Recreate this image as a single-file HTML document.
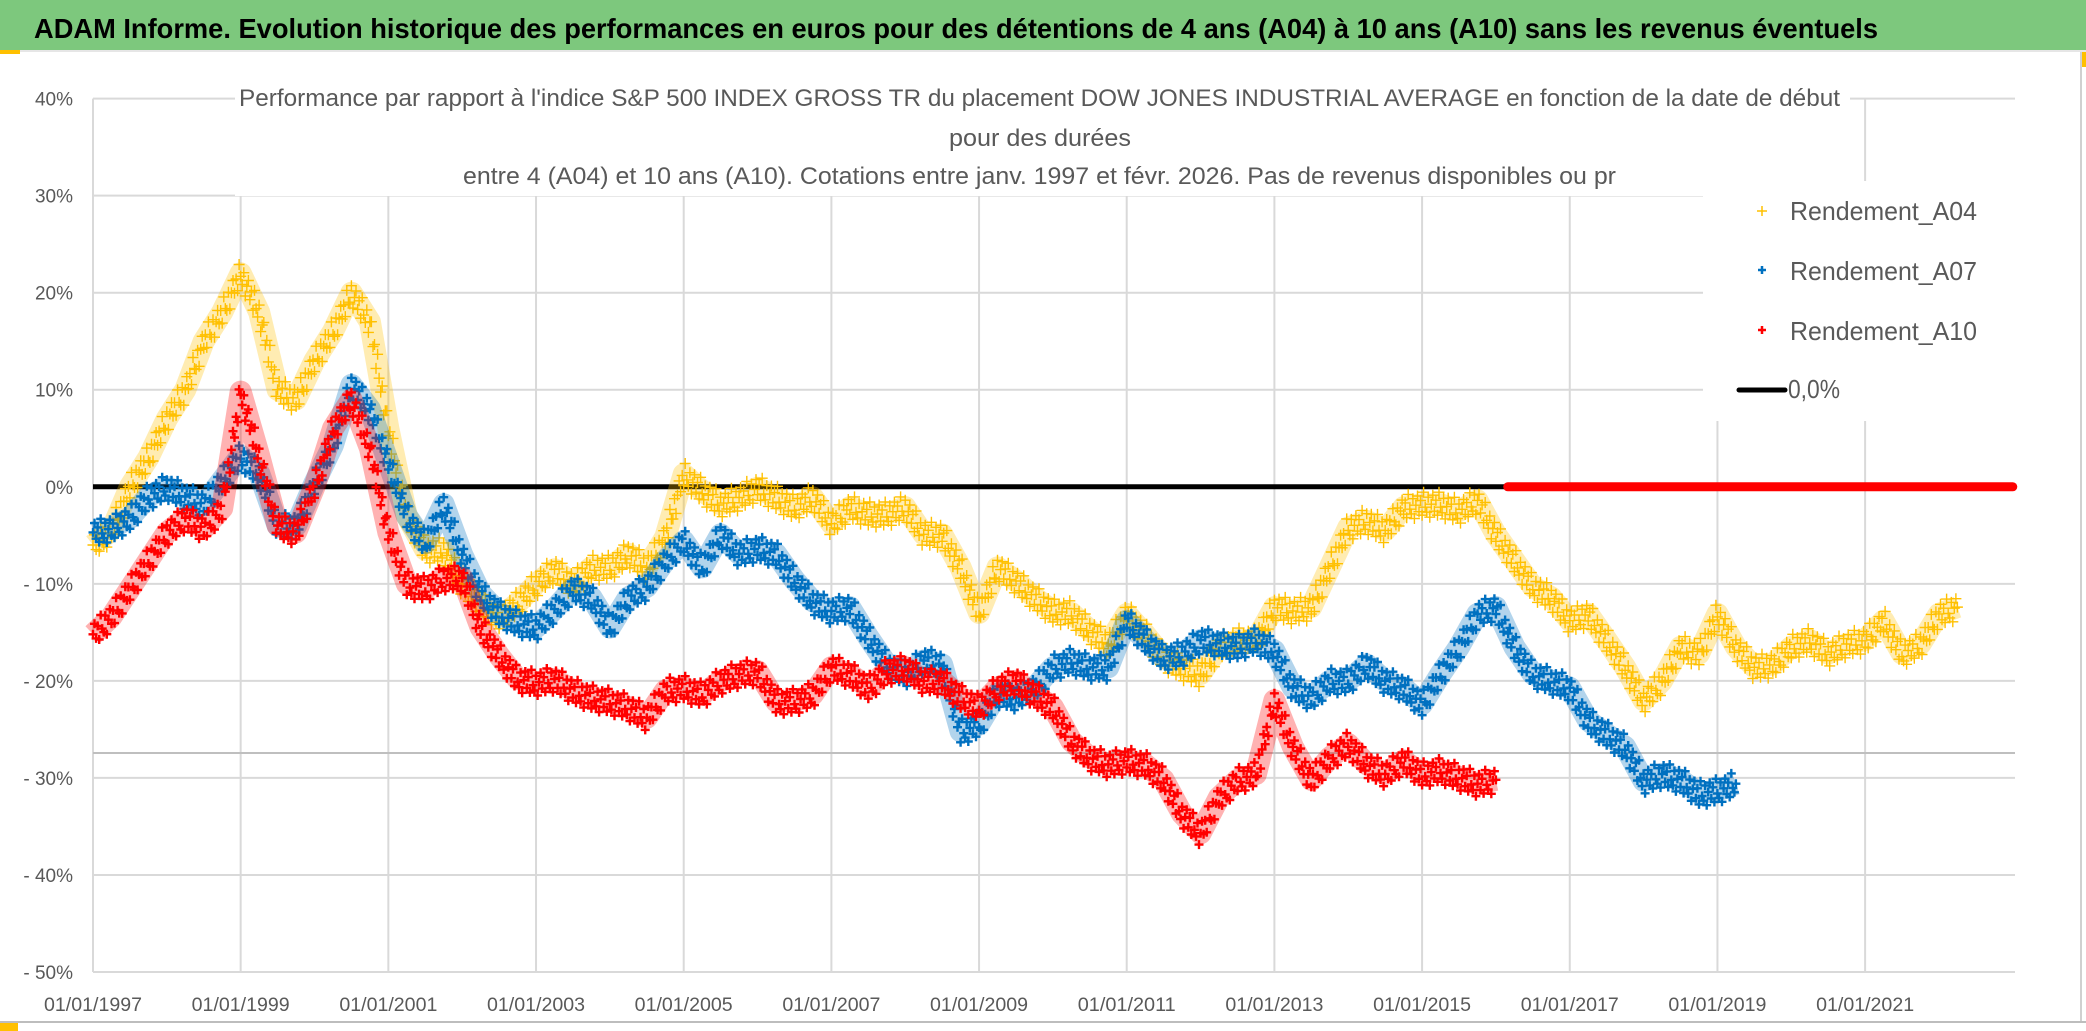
<!DOCTYPE html>
<html><head><meta charset="utf-8"><style>
html,body{margin:0;padding:0;background:#fff;width:2086px;height:1031px;overflow:hidden}
svg{display:block}
text{font-family:"Liberation Sans",sans-serif}
</style></head><body>
<svg id="chart" width="2086" height="1031" viewBox="0 0 2086 1031">
  <rect x="0" y="0" width="2086" height="1031" fill="#fff"/>
  <rect x="0" y="0" width="2086" height="50" fill="#7DC87D"/>
  <rect x="0" y="50" width="2086" height="2" fill="#e6e6e6"/>
  <rect x="0" y="50" width="20" height="4" fill="#FFC000"/>
  <rect x="2080" y="52" width="2" height="970" fill="#d0d0d0"/>
  <rect x="2082" y="52" width="4" height="15" fill="#FFC000"/>
  <rect x="0" y="1021" width="2086" height="2" fill="#bdbdbd"/>
  <rect x="0" y="1023" width="18" height="8" fill="#FFC000"/>
  <text x="34" y="38" font-size="28" font-weight="bold" fill="#000" textLength="1844" lengthAdjust="spacingAndGlyphs">ADAM Informe. Evolution historique des performances en euros pour des détentions de 4 ans (A04) à 10 ans (A10) sans les revenus éventuels</text>
  <g id="grid"></g>
  <g id="yaxis"></g>
  <g id="xaxis"></g>
  <g id="series"></g>
  <rect x="235" y="60" width="1615" height="136" fill="#fff"/>
  <text x="239" y="106" font-size="24" fill="#595959" textLength="1601" lengthAdjust="spacingAndGlyphs">Performance par rapport à l'indice S&amp;P 500 INDEX GROSS TR  du placement DOW JONES INDUSTRIAL AVERAGE en fonction de la date de début</text>
  <text x="1040" y="146" font-size="24" fill="#595959" text-anchor="middle" textLength="182" lengthAdjust="spacingAndGlyphs">pour des durées</text>
  <text x="463" y="184" font-size="24" fill="#595959" textLength="1153" lengthAdjust="spacingAndGlyphs">entre 4 (A04) et 10 ans (A10). Cotations entre janv. 1997 et févr. 2026. Pas de revenus disponibles ou pr</text>
  <g>
    <rect x="1703" y="181" width="312" height="240" fill="#fff"/>
    <g>
      <path d="M1757 211h10M1762 206v10" stroke="#FFC000" stroke-width="1.5"/>
      <text x="1790" y="220" font-size="26" fill="#595959" textLength="187" lengthAdjust="spacingAndGlyphs">Rendement_A04</text>
    </g>
    <g>
      <path d="M1758 270h8M1762 266v8" stroke="#0070C0" stroke-width="2.5"/>
      <text x="1790" y="280" font-size="26" fill="#595959" textLength="187" lengthAdjust="spacingAndGlyphs">Rendement_A07</text>
    </g>
    <g>
      <path d="M1758 330h8M1762 326v8" stroke="#FF0000" stroke-width="2.5"/>
      <text x="1790" y="340" font-size="26" fill="#595959" textLength="187" lengthAdjust="spacingAndGlyphs">Rendement_A10</text>
    </g>
    <g>
      <line x1="1739" y1="390" x2="1785" y2="390" stroke="#000" stroke-width="5" stroke-linecap="round"/>
      <text x="1788" y="398" font-size="26" fill="#595959" textLength="52" lengthAdjust="spacingAndGlyphs">0,0%</text>
    </g>
  </g>
</svg>
<script>
// Quarterly sampled values (%), starting 1997.0, step 0.25 year
const startYear = 1997.0;
const stepYear = 0.25;
const a04Values = [-6,-4.5,0,3,7,10,15,18,22,18,10,9,13,16,20,17,6,-3,-6.5,-6.5,-10,-12,-13.5,-12,-10,-8.5,-10,
 -8.3,-8.3,-6.9,-8.3,-5.2,1.3,-0.4,-1.8,-1.1,-0.1,-1.1,-2.1,-1.1,-3.8,-2.1,-2.8,-2.8,-2.1,-4.9,-4.9,-8.3,-13,-8.3,-9.7,-11.4,-12.8,-13,
 -14.8,-16.2,-13.1,-15.2,-17.6,-18.6,-19.3,-16.5,-15.8,-15.8,-12.4,-12.8,-12.4,-8.3,-4.2,-3.5,-4.5,-2.1,-1.8,-1.8,-2.5,-1.4,-4.9,-7.6,-10.3,-11.4,
 -13.8,-13.1,-15.8,-18.6,-22,-20,-16.5,-17.2,-13.1,-16.5,-18.6,-18.3,-16.5,-15.8,-17.2,-16.2,-15.8,-13.8,-17.2,-16.2,-13.1,-12.4];
const a07Values = [-4.7,-4.3,-3.2,-1,0,-1,-1.8,0.7,3.2,1.4,-4,-4,0.4,4.3,10.5,8,2.5,-3,-5.8,-1.8,-7,-11,-13,-14,-14.5,-12.6,-10.5,
 -11.4,-14.5,-11.4,-10.3,-7.6,-5.6,-8.3,-4.9,-6.9,-6.3,-6.9,-9.6,-11.8,-12.8,-12.4,-15.5,-18.3,-19.3,-17.9,-18.3,-25.2,-24.5,-21.3,-21.7,-20.7,-18.6,-17.9,
 -18.6,-18.6,-13.8,-15.8,-17.6,-17.2,-15.8,-16.2,-16.5,-15.8,-16.9,-20.7,-21.7,-20,-20,-18.3,-20,-20.7,-22.4,-19.3,-16.5,-13.1,-12.4,-16.5,-19.3,-20,
 -20.7,-24.1,-25.5,-26.8,-30.3,-29.6,-30.2,-31.6,-31.3,-30.6];
const a10Values = [-15.2,-13.4,-10.5,-7.6,-4.7,-3.2,-4.3,-2.2,9.8,3.2,-4,-4.7,0,6,9,4,-4.7,-10,-10.5,-9.4,-9.4,-14.5,-17.4,-19.8,-20.2,-19.8,-21,
 -21.7,-22.1,-22.7,-23.8,-21,-20.7,-21.4,-20,-19.3,-19,-22.1,-22.1,-21.4,-18.6,-19.3,-20.7,-19,-18.6,-20,-20,-21.7,-22.7,-20.7,-20,-21.4,-22.7,-26.2,
 -27.9,-28.6,-28.2,-28.6,-30.2,-33.7,-35.7,-32,-30.2,-29.6,-22,-26.8,-30.2,-27.9,-26.5,-28.6,-29.6,-28.2,-29.6,-29.2,-29.9,-30.6,-30.2];
const a10ZeroStart = 2016.16;
const a10ZeroEnd = 2023.0;
const yTicks = [40,30,20,10,0,-10,-20,-30,-40,-50];
const yTickLabels = ["40%","30%","20%","10%","0%","- 10%","- 20%","- 30%","- 40%","- 50%"];
const xTicks = [1997,1999,2001,2003,2005,2007,2009,2011,2013,2015,2017,2019,2021];
const xTickLabels = ["01/01/1997","01/01/1999","01/01/2001","01/01/2003","01/01/2005","01/01/2007","01/01/2009","01/01/2011","01/01/2013","01/01/2015","01/01/2017","01/01/2019","01/01/2021"];

const NS = "http://www.w3.org/2000/svg";
const X0 = 93, X1 = 2015, Y0 = 98.6, Y1 = 972;
const xMin = 1997, xMax = 2023.03, yMax = 40, yMin = -50;
function xs(yr){ return X0 + (yr - xMin) / (xMax - xMin) * (X1 - X0); }
function ys(v){ return Y0 + (yMax - v) / (yMax - yMin) * (Y1 - Y0); }
function mk(tag, attrs, parent){ const e = document.createElementNS(NS, tag); for (const k in attrs) e.setAttribute(k, attrs[k]); parent.appendChild(e); return e; }

const grid = document.getElementById('grid');
yTicks.forEach((t) => {
  const l = mk('line', {x1: X0, x2: X1, y1: ys(t), y2: ys(t), stroke: '#d9d9d9', 'stroke-width': 2}, grid);
  
  
});
xTicks.forEach((t) => {
  const l = mk('line', {x1: xs(t), x2: xs(t), y1: Y0, y2: Y1, stroke: '#d9d9d9', 'stroke-width': 2}, grid);
  
  
});
const extra = mk('line', {x1: X0, x2: X1, y1: 753, y2: 753, stroke: '#bfbfbf', 'stroke-width': 2}, grid);



const yaxis = document.getElementById('yaxis');
yTicks.forEach((t, i) => {
  const tx = mk('text', {x: 73, y: ys(t) + 7, 'font-size': 19, fill: '#595959', 'text-anchor': 'end'}, yaxis);
  tx.textContent = yTickLabels[i];
  
  
});
const xaxis = document.getElementById('xaxis');
xTicks.forEach((t, i) => {
  const tx = mk('text', {x: xs(t), y: 1011, 'font-size': 19, fill: '#595959', 'text-anchor': 'middle', textLength: 98, lengthAdjust: 'spacingAndGlyphs'}, xaxis);
  tx.textContent = xTickLabels[i];
  
  
});

const series = document.getElementById('series');
const zl = mk('line', {x1: X0, x2: X1, y1: ys(0), y2: ys(0), stroke: '#000', 'stroke-width': 5}, series);



// visual spread of the scatter band around each value (pixels) - rendering only
const spreadOffsets = [0, -9, 7, -4, 11, -12, 3, 8, -7, 13];
function drawSeries(vals, color, sw, size, name){
  const g = mk('g', {}, series);
  
  
  const pts = vals.map((v, i) => [xs(startYear + i * stepYear), ys(v)]);
  const band = mk('polyline', {points: pts.map(p => p.join(',')).join(' '), fill: 'none', stroke: color, 'stroke-width': 22, 'stroke-opacity': 0.3, 'stroke-linejoin': 'round'}, g);
  
  
  let d = '';
  const h = size / 2;
  let c = 0;
  for (let i = 0; i < pts.length - 1; i++) {
    const [ax, ay] = pts[i], [bx, by] = pts[i + 1];
    const n = Math.max(1, Math.round((bx - ax) / 1.6));
    for (let k = 0; k < n; k++) {
      const f = k / n;
      const x = ax + (bx - ax) * f, y = ay + (by - ay) * f + spreadOffsets[c % spreadOffsets.length];
      c++;
      d += 'M' + (x - h).toFixed(1) + ' ' + y.toFixed(1) + 'h' + size + 'M' + x.toFixed(1) + ' ' + (y - h).toFixed(1) + 'v' + size;
    }
  }
  const last = pts[pts.length - 1];
  d += 'M' + (last[0] - h) + ' ' + last[1] + 'h' + size + 'M' + last[0] + ' ' + (last[1] - h) + 'v' + size;
  const p = mk('path', {d: d, stroke: color, 'stroke-width': sw, fill: 'none'}, g);
  
  
}
drawSeries(a04Values, '#FFC000', 1.4, 11, 'series-a04');
drawSeries(a07Values, '#0070C0', 2.4, 9, 'series-a07');
drawSeries(a10Values, '#FF0000', 2.4, 9, 'series-a10');
const zr = mk('line', {x1: xs(a10ZeroStart), x2: xs(a10ZeroEnd), y1: ys(0), y2: ys(0), stroke: '#FF0000', 'stroke-width': 9, 'stroke-linecap': 'round'}, series);


</script>
</body></html>
